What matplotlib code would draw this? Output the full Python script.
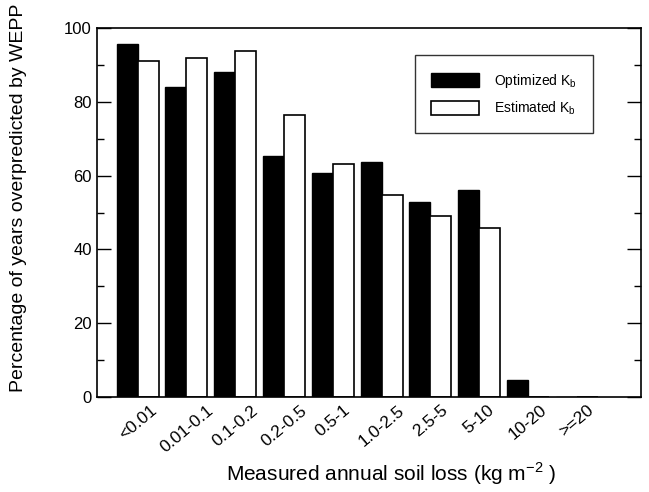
import numpy as np
import matplotlib
matplotlib.use("Agg")
import matplotlib.pyplot as plt
from matplotlib.ticker import MultipleLocator

plt.rcParams['font.family'] = ['Liberation Sans', 'DejaVu Sans']

# soil loss classes and percentage of years overpredicted
classes = ['<0.01', '0.01-0.1', '0.1-0.2', '0.2-0.5', '0.5-1',
           '1.0-2.5', '2.5-5', '5-10', '10-20', '>=20']
optimized_kb = [95.7, 84.0, 88.0, 65.3, 60.7, 63.8, 52.8, 56.2, 4.6, 0]
estimated_kb = [91.0, 92.0, 93.8, 76.5, 63.1, 54.8, 49.0, 45.8, 0, 0]

fig = plt.figure(figsize=(6.49, 4.92), dpi=100)
ax = fig.add_axes([0.149, 0.193, 0.839, 0.750])

x = np.arange(len(classes))
w = 0.43
ax.bar(x - w / 2, optimized_kb, w, color='black', edgecolor='black',
       linewidth=1.0, label='Optimized K$_\\mathregular{b}$')
ax.bar(x + w / 2, estimated_kb, w, color='white', edgecolor='black',
       linewidth=1.2, label='Estimated K$_\\mathregular{b}$')

ax.set_xlim(-0.84, 10.32)
ax.set_ylim(0, 100)
ax.set_xticks(x)
ax.set_xticklabels(classes, rotation=40, ha='center', fontsize=12.5)
ax.tick_params(axis='x', length=0, pad=4)

ax.yaxis.set_major_locator(MultipleLocator(20))
ax.yaxis.set_minor_locator(MultipleLocator(10))
ax.tick_params(axis='y', which='major', direction='in', length=10,
               width=1.0, right=True, labelsize=12)
ax.tick_params(axis='y', which='minor', direction='in', length=5,
               width=1.0, right=True)

for s in ax.spines.values():
    s.set_linewidth(1.2)

ax.set_ylabel('Percentage of years overpredicted by WEPP', fontsize=14)
ax.yaxis.set_label_coords(-0.128, 0.54)
ax.set_xlabel('Measured annual soil loss (kg m$^{\\mathregular{-2}}$ )',
              fontsize=15)
ax.xaxis.set_label_coords(0.54, -0.172)

leg = ax.legend(loc='upper right', bbox_to_anchor=(0.912, 0.927),
                fontsize=10, frameon=True, fancybox=False,
                edgecolor='black', handlelength=3.4, handleheight=1.2,
                borderpad=1.2, labelspacing=0.7, handletextpad=1.1,
                borderaxespad=0)
leg.get_frame().set_linewidth(1.0)

fig.savefig('out.png', dpi=100)
